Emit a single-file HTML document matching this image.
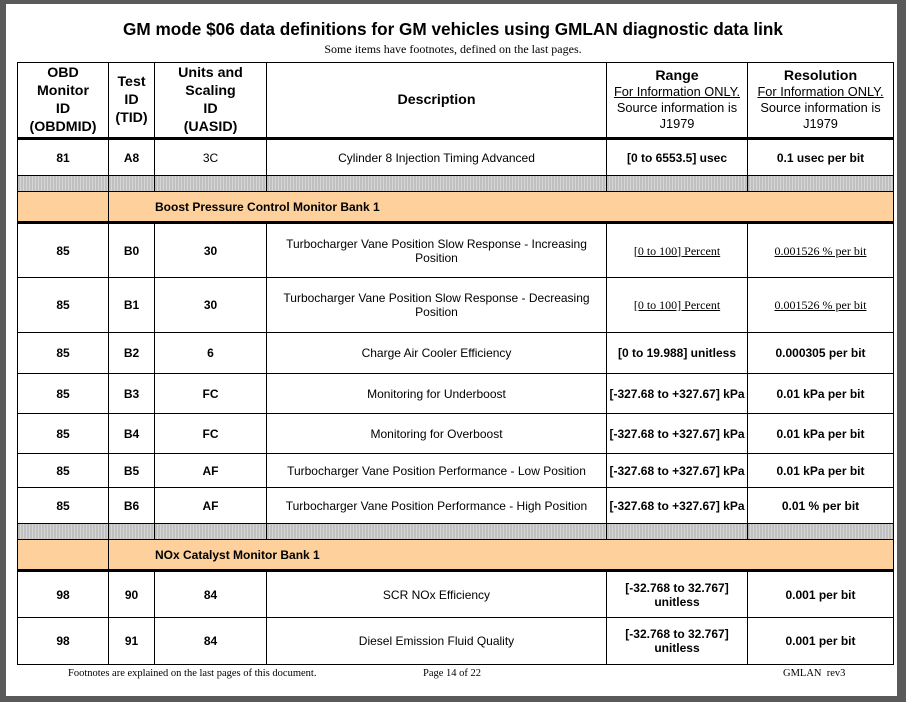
<!DOCTYPE html>
<html><head><meta charset="utf-8"><style>
html,body{margin:0;padding:0}
body{width:906px;height:702px;background:#5a5a5a;position:relative;overflow:hidden;font-family:"Liberation Sans",sans-serif}
.page{position:absolute;left:6px;top:4px;width:891px;height:692px;background:#fff}
.title{position:absolute;left:0;top:19px;width:906px;text-align:center;font-weight:bold;font-size:17.2px;color:#000}
.sub{position:absolute;left:0;top:42px;width:906px;text-align:center;font-family:"Liberation Serif",serif;font-size:12px}
table{position:absolute;left:17px;top:62px;border-collapse:collapse;table-layout:fixed;width:876px}
td{border:1.5px solid #000;text-align:center;vertical-align:middle;font-size:12px;padding:0 2px;line-height:14px}
.h td{font-weight:bold;font-size:14.2px;line-height:18px}
.h td.s{font-weight:normal;font-size:12.8px;line-height:16px}
.h td.s b{font-size:14.2px}
.u{text-decoration:underline}
.thick td{border-bottom:3px solid #000}
.g td{background:repeating-linear-gradient(90deg,#aaa 0 1px,#d6d6d6 1px 3px);height:14px}
.o td{background:#fdd09c;font-weight:bold;font-size:12px}
.b{font-weight:bold}
.sr{font-family:"Liberation Serif",serif;text-decoration:underline}
.foot{position:absolute;top:668px;font-family:"Liberation Serif",serif;font-size:10.5px}
</style></head><body>
<div class="page"></div>
<div class="title">GM mode $06 data definitions for GM vehicles using GMLAN diagnostic data link</div>
<div class="sub">Some items have footnotes, defined on the last pages.</div>
<table>
<colgroup><col style="width:91px"><col style="width:46px"><col style="width:112px"><col style="width:340px"><col style="width:141px"><col style="width:146px"></colgroup>
<tr class="h thick" style="height:76px"><td>OBD<br>Monitor<br>ID<br>(OBDMID)</td><td>Test<br>ID<br>(TID)</td><td>Units and<br>Scaling<br>ID<br>(UASID)</td><td>Description</td><td class="s"><b>Range</b><br><span class="u">For Information ONLY.</span><br>Source information is<br>J1979</td><td class="s"><b>Resolution</b><br><span class="u">For Information ONLY.</span><br>Source information is<br>J1979</td></tr>
<tr style="height:37px"><td class="b">81</td><td class="b">A8</td><td>3C</td><td>Cylinder 8 Injection Timing Advanced</td><td class="b">[0 to 6553.5] usec</td><td class="b">0.1 usec per bit</td></tr>
<tr class="g" style="height:16px"><td></td><td></td><td></td><td></td><td></td><td></td></tr>
<tr class="o thick" style="height:31px"><td></td><td colspan="5" style="text-align:left;padding-left:46px">Boost Pressure Control Monitor Bank 1</td></tr>
<tr style="height:55px"><td class="b">85</td><td class="b">B0</td><td class="b">30</td><td>Turbocharger Vane Position Slow Response - Increasing<br>Position</td><td class="sr">[0 to 100] Percent</td><td class="sr">0.001526 % per bit</td></tr>
<tr style="height:55px"><td class="b">85</td><td class="b">B1</td><td class="b">30</td><td>Turbocharger Vane Position Slow Response - Decreasing<br>Position</td><td class="sr">[0 to 100] Percent</td><td class="sr">0.001526 % per bit</td></tr>
<tr style="height:41px"><td class="b">85</td><td class="b">B2</td><td class="b">6</td><td>Charge Air Cooler Efficiency</td><td class="b">[0 to 19.988] unitless</td><td class="b">0.000305 per bit</td></tr>
<tr style="height:40px"><td class="b">85</td><td class="b">B3</td><td class="b">FC</td><td>Monitoring for Underboost</td><td class="b">[-327.68 to +327.67] kPa</td><td class="b">0.01 kPa per bit</td></tr>
<tr style="height:40px"><td class="b">85</td><td class="b">B4</td><td class="b">FC</td><td>Monitoring for Overboost</td><td class="b">[-327.68 to +327.67] kPa</td><td class="b">0.01 kPa per bit</td></tr>
<tr style="height:34px"><td class="b">85</td><td class="b">B5</td><td class="b">AF</td><td>Turbocharger Vane Position Performance - Low Position</td><td class="b">[-327.68 to +327.67] kPa</td><td class="b">0.01 kPa per bit</td></tr>
<tr style="height:36px"><td class="b">85</td><td class="b">B6</td><td class="b">AF</td><td>Turbocharger Vane Position Performance - High Position</td><td class="b">[-327.68 to +327.67] kPa</td><td class="b">0.01 % per bit</td></tr>
<tr class="g" style="height:16px"><td></td><td></td><td></td><td></td><td></td><td></td></tr>
<tr class="o thick" style="height:31px"><td></td><td colspan="5" style="text-align:left;padding-left:46px">NOx Catalyst Monitor Bank 1</td></tr>
<tr style="height:47px"><td class="b">98</td><td class="b">90</td><td class="b">84</td><td>SCR NOx Efficiency</td><td class="b">[-32.768 to 32.767]<br>unitless</td><td class="b">0.001 per bit</td></tr>
<tr style="height:47px"><td class="b">98</td><td class="b">91</td><td class="b">84</td><td>Diesel Emission Fluid Quality</td><td class="b">[-32.768 to 32.767]<br>unitless</td><td class="b">0.001 per bit</td></tr>
</table>
<div class="foot" style="left:68px">Footnotes are explained on the last pages of this document.</div>
<div class="foot" style="left:423px">Page 14 of 22</div>
<div class="foot" style="left:783px">GMLAN&nbsp; rev3</div>
</body></html>
